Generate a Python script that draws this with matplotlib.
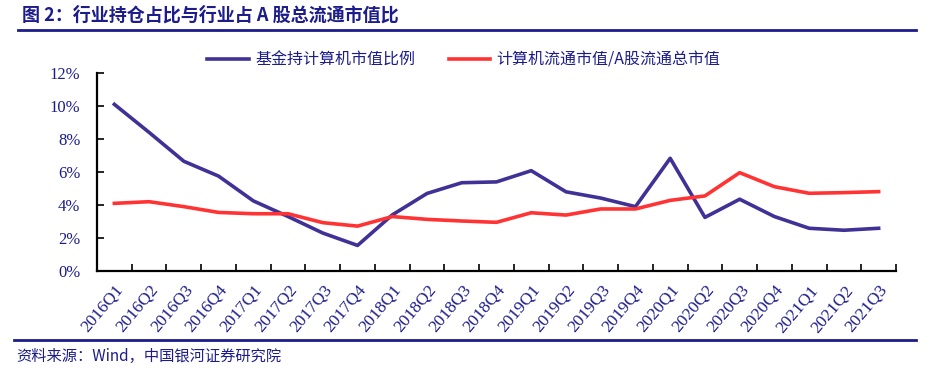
import matplotlib.pyplot as plt
import numpy as np

plt.rcParams['font.family'] = ['Liberation Serif', 'Noto Sans CJK SC']

quarters = ['2016Q1', '2016Q2', '2016Q3', '2016Q4', '2017Q1', '2017Q2', '2017Q3', '2017Q4',
            '2018Q1', '2018Q2', '2018Q3', '2018Q4', '2019Q1', '2019Q2', '2019Q3', '2019Q4',
            '2020Q1', '2020Q2', '2020Q3', '2020Q4', '2021Q1', '2021Q2', '2021Q3']
fund_share = [10.1, 8.4, 6.65, 5.75, 4.25, 3.3, 2.3, 1.55,
              3.4, 4.7, 5.35, 5.4, 6.08, 4.8, 4.42, 3.9,
              6.83, 3.25, 4.35, 3.3, 2.59, 2.47, 2.59]
float_share = [4.1, 4.2, 3.9, 3.55, 3.47, 3.47, 2.93, 2.72,
               3.3, 3.13, 3.03, 2.95, 3.53, 3.39, 3.76, 3.76,
               4.28, 4.55, 5.96, 5.11, 4.71, 4.75, 4.81]

navy = '#1c1c8a'
fig = plt.figure(figsize=(9.49, 3.87), dpi=100)
ax = fig.add_axes([97/949, 1-271/387, 799/949, 198/387])

x = np.arange(len(quarters))
ax.plot(x, fund_share, color='#3f3196', lw=2.6, label='基金持计算机市值比例')
ax.plot(x, float_share, color='#ff3333', lw=2.6, label='计算机流通市值/A股流通总市值')

ax.set_xlim(-0.5, len(quarters) - 0.5)
ax.set_ylim(0, 12)
ax.set_yticks(np.arange(0, 13, 2))
ax.set_yticklabels([f'{v}%' for v in range(0, 13, 2)], color=navy, fontsize=12)
ax.set_xticks(x)
ax.set_xticklabels(quarters, rotation=50, ha='right', va='top', rotation_mode='anchor',
                   color=navy, fontsize=12.5)
ax.set_xticks(np.arange(-0.5, len(quarters)), minor=True)
ax.tick_params(axis='x', which='major', length=0, pad=8)
ax.tick_params(axis='x', which='minor', direction='in', length=5, width=1.2)
ax.tick_params(axis='y', direction='in', length=5, width=1.2, pad=12)
for s in ['top', 'right']:
    ax.spines[s].set_visible(False)
for s in ['left', 'bottom']:
    ax.spines[s].set_linewidth(1.6)

leg = ax.legend(loc='upper left', bbox_to_anchor=(0.12, 1.18), ncol=2, frameon=False,
                handlelength=2.6, columnspacing=2.1, handletextpad=0.4,
                prop={'family': ['Noto Sans CJK SC'], 'size': 11.5})
for t in leg.get_texts():
    t.set_color(navy)

fig.text(22/949, 1-15/387, '图 2：行业持仓占比与行业占 A 股总流通市值比', fontsize=13,
         fontweight='bold', color=navy, va='center', family=['Noto Sans CJK SC'])
fig.add_artist(plt.Line2D([18/949, 916/949], [1-30/387, 1-30/387], color=navy, lw=2))
fig.add_artist(plt.Line2D([14/949, 916/949], [1-340/387, 1-340/387], color=navy, lw=2))
fig.text(16/949, 1-356/387, '资料来源：Wind，中国银河证券研究院', fontsize=11, color=navy,
         va='center', style='italic', family=['Noto Sans CJK SC'])

fig.savefig('out.png', dpi=100)
